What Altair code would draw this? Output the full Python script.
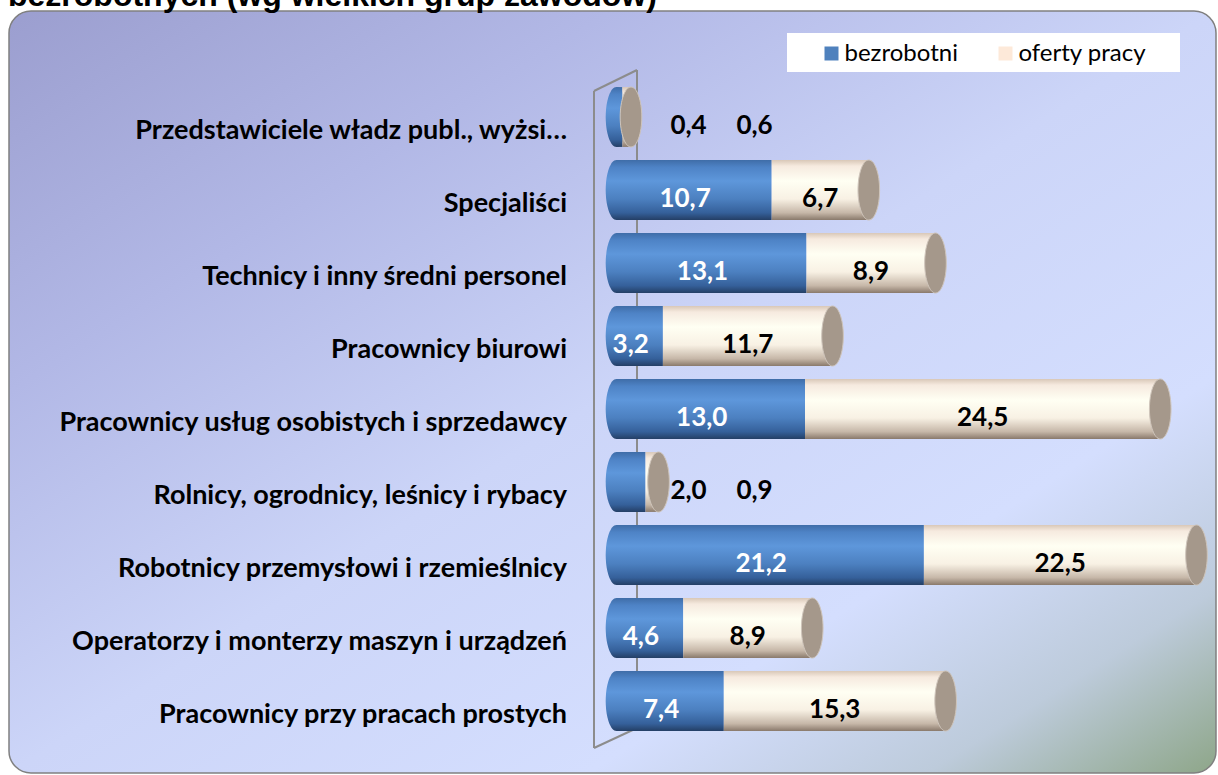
import altair as alt
import pandas as pd

# ---- data ----
CATEGORIES = [
    "Przedstawiciele władz publ., wyżsi…",
    "Specjaliści",
    "Technicy i inny średni personel",
    "Pracownicy biurowi",
    "Pracownicy usług osobistych i sprzedawcy",
    "Rolnicy, ogrodnicy, leśnicy i rybacy",
    "Robotnicy przemysłowi i rzemieślnicy",
    "Operatorzy i monterzy maszyn i urządzeń",
    "Pracownicy przy pracach prostych",
]
BEZROBOTNI = [0.4, 10.7, 13.1, 3.2, 13.0, 2.0, 21.2, 4.6, 7.4]
OFERTY = [0.6, 6.7, 8.9, 11.7, 24.5, 0.9, 22.5, 8.9, 15.3]
SERIES = ["bezrobotni", "oferty pracy"]
TITLE_TEXT = "bezrobotnych (wg wielkich grup zawodów)"
XMAX = 40

def fmt(v):
    return f"{v:.1f}".replace(".", ",")

rows = []
for c, b, o in zip(CATEGORIES, BEZROBOTNI, OFERTY):
    small = int((b + o) < 5)
    rows.append(dict(cat=c, series=SERIES[0], start=0.0, end=b, zero=0.0,
                     mid=min(b, XMAX) / 2, label=fmt(b), small=small, total=b + o))
    rows.append(dict(cat=c, series=SERIES[1], start=b, end=b + o, zero=0.0,
                     mid=(b + min(b + o, XMAX)) / 2, label=fmt(o), small=small, total=b + o))
df = pd.DataFrame(rows)
one = pd.DataFrame({"k": [0]})

FONT = "Lato"
W, H = 580, 657

XSCALE = alt.Scale(domain=[0, XMAX], clamp=True, nice=False, zero=True)

def X(field):
    return alt.X(field, type="quantitative", scale=XSCALE, axis=None)

ys = alt.Y("cat:N", scale=alt.Scale(domain=CATEGORIES, paddingInner=0.18, paddingOuter=0.09),
           axis=alt.Axis(title=None, domain=False, ticks=False, tickSize=0, labelFont=FONT,
                         labelFontWeight="bold", labelFontSize=27, labelColor="black",
                         labelPadding=50, labelOffset=14, labelLimit=0, grid=False, zindex=1))

def grad(stops, x2=0, y2=1):
    return {"gradient": "linear", "x1": 0, "y1": 0, "x2": x2, "y2": y2,
            "stops": [{"offset": o, "color": c} for o, c in stops]}

blue_grad = grad([(0, "#3F6DA8"), (0.12, "#4E83C6"), (0.35, "#5E97DB"),
                  (0.65, "#4C80C0"), (0.88, "#35609A"), (1, "#243F66")])
cream_grad = grad([(0, "#D9C8B8"), (0.1, "#F6EADF"), (0.35, "#FFFFF3"),
                   (0.65, "#F8F1E4"), (0.88, "#C6B7A8"), (1, "#8A7A6C")])
bg_grad = grad([(0, "#9B9ECF"), (0.25, "#B2B8E6"), (0.5, "#CCD5F8"),
                (0.74, "#D4DEFE"), (0.88, "#BDCBDB"), (1, "#8EA689")], x2=1, y2=1)

ELLIPSE = ("M0,-1 C0.2,-1 0.36,-0.552 0.36,0 C0.36,0.552 0.2,1 0,1 "
           "C-0.2,1 -0.36,0.552 -0.36,0 C-0.36,-0.552 -0.2,-1 0,-1 Z")

panel = alt.Chart(one).mark_rect(fill=bg_grad, stroke="#808080", strokeWidth=1.5,
                                 cornerRadius=22).encode(
    x=alt.value(-607.5), x2=alt.value(599.5), y=alt.value(-69.5), y2=alt.value(692.5))

legend_box = alt.Chart(one).mark_rect(fill="white").encode(
    x=alt.value(170.5), x2=alt.value(563.5), y=alt.value(-47.5), y2=alt.value(-8.5))

title = alt.Chart(one).mark_text(text=TITLE_TEXT, font="Liberation Sans", fontWeight="bold",
                                 fontSize=32, align="left", baseline="alphabetic",
                                 color="black").encode(x=alt.value(-608.5), y=alt.value(-74.5))

def rule(x1, y1, x2, y2):
    return alt.Chart(one).mark_rule(color="#8C8C8C", strokeWidth=2).encode(
        x=alt.value(x1), y=alt.value(y1), x2=alt.value(x2), y2=alt.value(y2))

walls = [rule(-22.5, 10.5, -22.5, 667.5), rule(-22.5, 10.5, 20.5, -10.5),
         rule(20.5, -10.5, 20.5, 647.5), rule(-22.5, 667.5, 20.5, 647.5)]

first = alt.datum.series == SERIES[0]
second = alt.datum.series == SERIES[1]

left_caps = alt.Chart(df).transform_filter(first).mark_point(
    shape=ELLIPSE, size=3600, filled=True, fill=blue_grad, opacity=1, strokeWidth=0
).encode(x=X("zero"), y=ys)

blue_bars = alt.Chart(df).transform_filter(first).mark_bar(fill=blue_grad).encode(
    x=X("start"), x2="end:Q", y=ys)
cream_bars = alt.Chart(df).transform_filter(second).mark_bar(fill=cream_grad).encode(
    x=X("start"), x2="end:Q", y=ys)

end_caps = alt.Chart(df).transform_filter(second).mark_point(
    shape=ELLIPSE, size=3600, filled=True, fill="#A5988B", opacity=1,
    stroke="#CFC5BB", strokeWidth=1).encode(x=X("total"), y=ys)

lab_kw = dict(font=FONT, fontWeight="bold", fontSize=26, baseline="alphabetic", dy=17)
blue_labels = alt.Chart(df).transform_filter(first).transform_filter(
    alt.datum.small == 0).mark_text(color="white", dx=-9, **lab_kw).encode(
    x=X("mid"), y=ys, text="label:N")
cream_labels = alt.Chart(df).transform_filter(second).transform_filter(
    alt.datum.small == 0).mark_text(color="black", **lab_kw).encode(
    x=X("mid"), y=ys, text="label:N")
out1 = alt.Chart(df).transform_filter(first).transform_filter(
    alt.datum.small == 1).mark_text(color="black", dx=72, **lab_kw).encode(
    x=X("zero"), y=ys, text="label:N")
out2 = alt.Chart(df).transform_filter(second).transform_filter(
    alt.datum.small == 1).mark_text(color="black", dx=138, **lab_kw).encode(
    x=X("zero"), y=ys, text="label:N")

legend_layer = alt.Chart(df).mark_point(size=0, opacity=0, filled=True).encode(
    x=X("zero"), y=ys,
    color=alt.Color("series:N", scale=alt.Scale(domain=SERIES, range=["#4F81BD", "#FDE9D9"]),
                    legend=alt.Legend(orient="none", legendX=203, legendY=-39, direction="horizontal",
                                      title=None, symbolType="square", symbolSize=196,
                                      symbolOpacity=1, symbolStrokeWidth=0, labelFont=FONT,
                                      labelFontSize=24, labelColor="black", labelOffset=1,
                                      columnPadding=35, padding=0)))

chart = alt.layer(panel, legend_box, title, *walls, left_caps, blue_bars, cream_bars, end_caps,
                  blue_labels, cream_labels, out1, out2, legend_layer).properties(
    width=W, height=H,
    autosize=alt.AutoSizeParams(type="none"),
    padding={"left": 616.5, "top": 80.5, "right": 1218 - 616.5 - W, "bottom": 775 - 80.5 - H},
    background="white",
).configure_view(stroke=None)

chart.save("out.html", embed_options={"renderer": "svg", "actions": False})
